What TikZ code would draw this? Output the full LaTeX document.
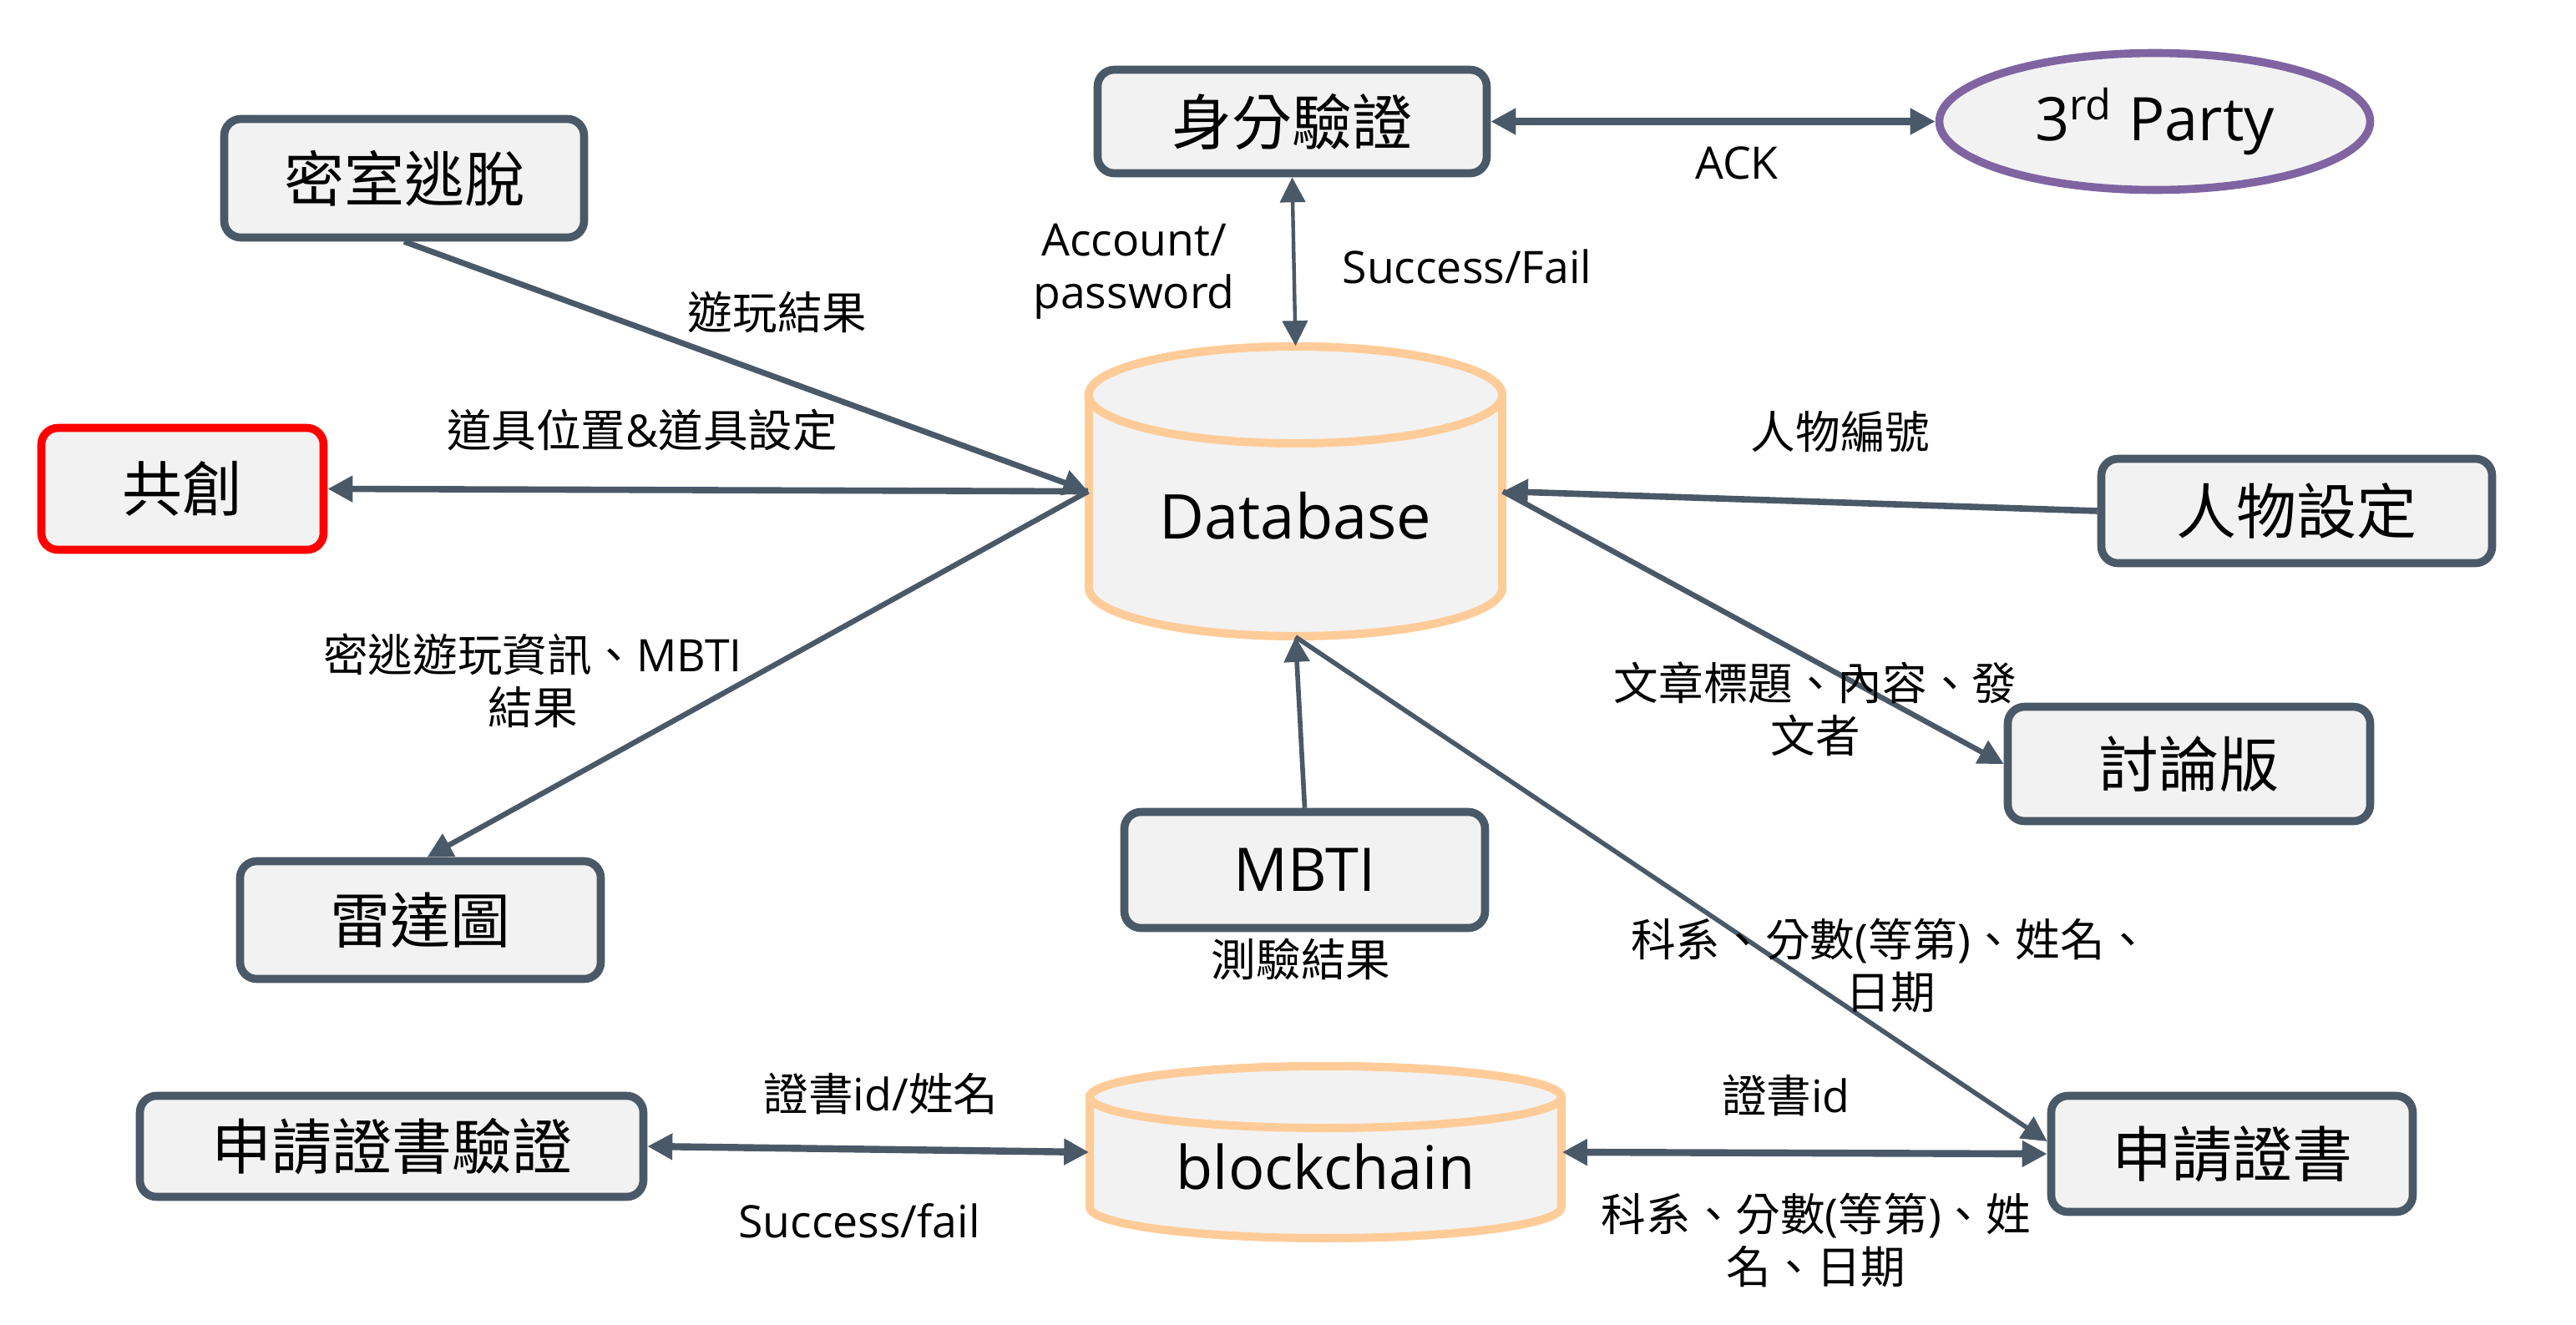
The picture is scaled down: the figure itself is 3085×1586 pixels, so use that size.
\documentclass[tikz,border=0pt]{standalone}
\usepackage{fontspec}
\setmainfont{Noto Sans CJK TC}
\newfontfamily\lat{Open Sans}
\usetikzlibrary{arrows.meta,shapes.geometric,calc}
\definecolor{ln}{HTML}{4A5968}
\definecolor{bx}{HTML}{F2F2F2}
\definecolor{dbc}{HTML}{FFCC99}
\definecolor{pur}{HTML}{8064A2}
\begin{document}
\begin{tikzpicture}[x=0.25pt,y=-0.25pt,
  >={Triangle[length=7.5pt,width=7.5pt]},
  box/.style={draw=ln, fill=bx, line width=2.4pt, rounded corners=5pt,
    font=\fontsize{18}{21}\selectfont, inner sep=0pt},
  cyl/.style={draw=dbc, fill=bx, line width=2.5pt},
  lbl/.style={font=\fontsize{13.4}{15.75}\selectfont, align=center, inner sep=0pt},
  latlbl/.style={font={\lat\fontsize{13.4}{15.75}\selectfont}, align=center, inner sep=0pt},
  conn/.style={draw=ln, line width=1.6pt}]
\useasboundingbox (0,0) rectangle (3085,1586);

% Database cylinder
\path[cyl] (1304,473) -- (1304,704)
  arc[start angle=180,end angle=360,x radius=61.9pt,y radius=14.5pt]
  -- (1799,473)
  arc[start angle=0,end angle=180,x radius=61.9pt,y radius=14.5pt] -- cycle;
\draw[cyl] (1551.5,473) ellipse [x radius=61.9pt, y radius=14.5pt];
\node[minimum width=123.75pt, minimum height=86.75pt, inner sep=0pt,
  font={\lat\fontsize{18.5}{21}\selectfont}] (db) at (1551.5,588.5)
  {\raisebox{-7.4pt}[\height][\depth]{Database}};

% blockchain cylinder
\path[cyl] (1305,1314) -- (1305,1446)
  arc[start angle=180,end angle=360,x radius=70.6pt,y radius=9.25pt]
  -- (1870,1314)
  arc[start angle=0,end angle=180,x radius=70.6pt,y radius=9.25pt] -- cycle;
\draw[cyl] (1587.5,1314) ellipse [x radius=70.6pt, y radius=9.25pt];
\node[minimum width=141.25pt, minimum height=51.5pt, inner sep=0pt,
  font={\lat\fontsize{18}{21}\selectfont}] (bc) at (1587.5,1380)
  {\raisebox{-4.25pt}[\height][\depth]{blockchain}};

% boxes
\node[box, minimum width=107.75pt, minimum height=35.5pt] (mi) at (484,213.5) {密室逃脫};
\node[box, draw=red, minimum width=84.5pt, minimum height=36.5pt] (gc) at (218.5,585.5) {共創};
\node[box, minimum width=108pt, minimum height=35.25pt] (ld) at (503.5,1102) {雷達圖};
\node[box, minimum width=150.75pt, minimum height=30.25pt] (sv) at (469,1373) {申請證書驗證};
\node[box, minimum width=116.5pt, minimum height=31pt] (sf) at (1547.5,145.5) {身分驗證};
\node[ellipse, draw=pur, fill=bx, line width=2.4pt, minimum width=129pt, minimum height=41pt,
  inner sep=0pt, font={\lat\fontsize{18}{21}\selectfont}] (tp) at (2580.5,145.5) {3\textsuperscript{rd} Party};
\node[box, minimum width=108pt, minimum height=34.75pt, font={\lat\fontsize{18}{21}\selectfont}] (mb) at (1562.5,1042) {MBTI};
\node[box, minimum width=117pt, minimum height=31.25pt] (rw) at (2750.5,612) {人物設定};
\node[box, minimum width=108.5pt, minimum height=34.25pt] (tl) at (2621.5,915) {討論版};
\node[box, minimum width=108.25pt, minimum height=34.75pt] (sq) at (2673,1382) {申請證書};

% connectors
\draw[conn, line width=2.1pt, <->] (sf.east) -- (tp.west);
\draw[conn, line width=1.1pt, <->] (sf.south) -- (db.north);
\draw[conn, line width=1.75pt, ->] (mi.south) -- (db.west);
\draw[conn, line width=1.9pt, ->] (db.west) -- (gc.east);
\draw[conn, ->] (db.west) -- ([xshift=2pt]ld.north);
\draw[conn, line width=1.9pt, ->] (rw.west) -- (db.east);
\draw[conn, ->] (db.east) -- (tl.west);
\draw[conn, line width=1.4pt, ->] (mb.north) -- (db.south);
\draw[conn, line width=1.4pt, ->] (db.south) -- ([yshift=3.75pt]sq.west);
\draw[conn, line width=2.1pt, <->] (sv.east) -- (bc.west);
\draw[conn, line width=2.1pt, <->] (bc.east) -- (sq.west);

% labels
\node[latlbl] (l1) at (2080,195) {ACK};
\node[latlbl] (l2) at (1358,325) {Account/\\password};
\node[latlbl] (l3) at (1757,319) {Success/Fail};
\node[lbl] (l4) at (931,374) {遊玩結果};
\node[lbl] (l5) at (769,515) {道具位置{\lat\&}道具設定};
\node[lbl] (l6) at (638,815) {密逃遊玩資訊、{\lat MBTI}\\結果};
\node[lbl] (l7) at (2204,517) {人物編號};
\node[lbl] (l8) at (2174,849) {文章標題、內容、發\\文者};
\node[lbl] (l9) at (1558,1149) {測驗結果};
\node[lbl] (l10) at (2264,1157) {科系、分數{\lat(}等第{\lat)}、姓名、\\日期};
\node[lbl] (l11) at (1055,1310) {證書{\lat id/}姓名};
\node[latlbl] (l12) at (1029,1462) {Success/fail};
\node[lbl] (l13) at (2139,1312) {證書{\lat id}};
\node[lbl] (l14) at (2175,1486) {科系、分數{\lat(}等第{\lat)}、姓\\名、日期};
\end{tikzpicture}
\end{document}
